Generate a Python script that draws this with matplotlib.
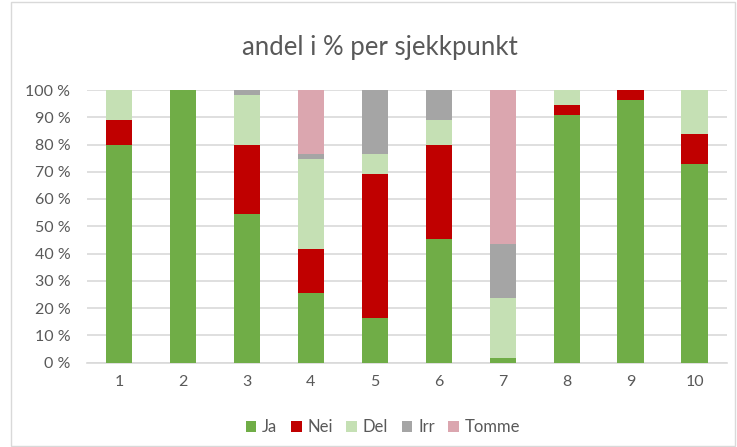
import matplotlib
matplotlib.use("Agg")
import matplotlib.pyplot as plt
from matplotlib.patches import Rectangle
import numpy as np

categories = ["1", "2", "3", "4", "5", "6", "7", "8", "9", "10"]
ja    = [80.0, 100.0, 54.4, 25.4, 16.4, 45.4, 1.6, 90.9, 96.3, 72.8]
nei   = [9.1, 0.0, 25.6, 16.2, 52.9, 34.6, 0.0, 3.7, 3.7, 11.1]
dele  = [10.9, 0.0, 18.2, 33.1, 7.2, 9.1, 21.9, 5.4, 0.0, 16.1]
irr   = [0.0, 0.0, 1.8, 1.8, 23.5, 10.9, 20.0, 0.0, 0.0, 0.0]
tomme = [0.0, 0.0, 0.0, 23.5, 0.0, 0.0, 56.5, 0.0, 0.0, 0.0]
series_names = ["Ja", "Nei", "Del", "Irr", "Tomme"]
yticks = [0, 10, 20, 30, 40, 50, 60, 70, 80, 90, 100]

colors = ["#70AD47", "#C00000", "#C5E0B4", "#A5A5A5", "#DBA6AF"]
plt.rcParams['font.family'] = ['Lato', 'DejaVu Sans']

fig = plt.figure(figsize=(7.37, 4.47), dpi=100)
ax = fig.add_axes([87/737, 1 - 362.5/447, (726.5-87)/737, (362.5-90)/447])

x = np.arange(len(categories))
bottom = np.zeros(len(categories))
data = [ja, nei, dele, irr, tomme]
for vals, name, c in zip(data, series_names, colors):
    ax.bar(x, vals, bottom=bottom, width=0.41, color=c, label=name, zorder=3)
    bottom += np.array(vals)

ax.set_xlim(-0.5, len(categories) - 0.5)
ax.set_ylim(0, 100)
ax.set_yticks(yticks)
ax.set_yticklabels([f"{v} %" for v in yticks])
ax.set_xticks(x)
ax.set_xticklabels(categories)
ax.yaxis.grid(True, color="#D9D9D9", linewidth=1.2, zorder=0)
ax.set_axisbelow(True)
for s in ["top", "right", "left"]:
    ax.spines[s].set_visible(False)
ax.spines["bottom"].set_color("#D9D9D9")
ax.spines["bottom"].set_linewidth(1.2)
ax.tick_params(axis="both", length=0, labelsize=11.5, labelcolor="#595959")
ax.tick_params(axis="y", pad=12)
ax.tick_params(axis="x", pad=9)

fig.text(380/737, 1 - 47/447, "andel i % per sjekkpunkt", ha="center", va="center",
         fontsize=18.5, color="#595959")

handles, labels = ax.get_legend_handles_labels()
fig.legend(handles, labels, loc="center", bbox_to_anchor=(383/737, 1 - 427/447),
           ncol=5, frameon=False, fontsize=12, labelcolor="#595959",
           handlelength=0.65, handleheight=0.65, handletextpad=0.35, columnspacing=0.8)

fig.patches.append(Rectangle((11/737, 1/447), (735-11)/737, (446-2)/447, transform=fig.transFigure,
                             fill=False, edgecolor="#D9D9D9", linewidth=1))

fig.savefig("out.png", dpi=100)
